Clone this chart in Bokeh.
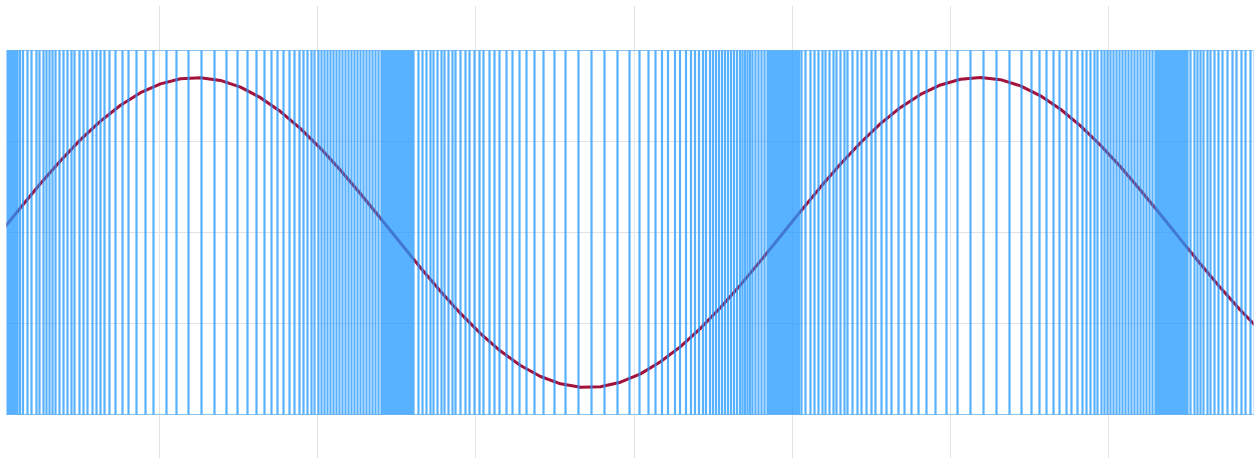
from bokeh.plotting import figure
from bokeh.models import FixedTicker, Range1d
from bokeh.embed import file_html
from bokeh.resources import INLINE

# x positions of the vertical sample marks
sample_x = [
    1, 2.5, 4, 5.5, 7, 8.5, 10, 11.5, 13, 14.5, 16, 17, 19.5, 22.5, 27, 31, 36, 39, 43, 46,
    49, 52, 55, 59, 63, 67, 71, 74, 79, 83, 87, 92, 96, 100, 104, 109, 115, 122, 128, 136,
    145, 153, 166, 176, 188, 201, 214, 226, 237, 247, 256, 264, 271, 277, 283, 289, 294, 299,
    303, 307, 311, 314, 318, 321, 324, 327, 330, 333, 336, 339, 342, 345, 348, 351,
    354, 357, 360, 363, 366, 369, 372, 375, 378, 381, 383, 384.5, 386, 387.5,
    389, 390.5, 392, 393.5, 395, 396.5, 398, 399.5, 401, 402.5, 404, 405.5, 407, 408.5,
    410, 411.5, 413, 418, 422, 426, 430, 433, 437, 441, 444, 448, 452, 455, 460, 465, 469, 474,
    479, 483, 489, 494, 499, 506, 512, 519, 526, 534, 543, 554, 565, 578, 591, 604, 617, 629,
    639, 648, 655, 661.5, 667.5, 674.5, 679.5, 685.5, 690.5, 694.5, 698.5, 702.5, 705.5, 709.5,
    712.5, 715.5, 718.5, 721.5, 724.5, 727.5, 730.5, 733.5, 736.5, 739.5, 742, 744.5,
    747, 749.5, 752, 755, 758, 761, 764, 767, 768.5, 770, 771.5, 773,
    774.5, 776, 777.5, 779, 780.5, 782, 783.5, 785, 786.5, 788, 789.5, 791, 792.5, 794, 795.5,
    797, 798.5, 801, 805, 810, 814, 818, 822, 825, 829, 833, 836, 840, 844, 847, 852, 857, 861,
    866, 871, 875, 881, 886, 891, 898, 904, 911, 918, 926, 935, 946, 957, 970, 983, 996, 1009,
    1021, 1031, 1039, 1046, 1053, 1059, 1066, 1071, 1077, 1082, 1086, 1090, 1094, 1097, 1101,
    1104, 1107, 1110, 1113, 1116, 1119, 1122, 1125, 1128, 1131, 1134, 1137, 1140,
    1143, 1146, 1149, 1152, 1155, 1157, 1158.5, 1160, 1161.5, 1163, 1164.5, 1166, 1167.5,
    1169, 1170.5, 1172, 1173.5, 1175, 1176.5, 1178, 1179.5, 1181, 1182.5, 1184, 1185.5, 1187,
    1190, 1194, 1197, 1200, 1203, 1207, 1210, 1214, 1218, 1222, 1227, 1232, 1236, 1241, 1245,
    1250, 1254,
]

# the smooth curve
curve_x = [0, 20, 40, 60, 80, 100, 120, 140, 160, 180, 200, 220, 240, 260, 280, 300, 320,
           340, 360, 380, 400, 420, 440, 460, 480, 500, 520, 540, 560, 580, 600, 620, 640,
           660, 680, 700, 720, 740, 760, 780, 800, 820, 840, 860, 880, 900, 920, 940, 960,
           980, 1000, 1020, 1040, 1060, 1080, 1100, 1120, 1140, 1160, 1180, 1200, 1220, 1240,
           1260]
curve_y = [0.000, 0.160, 0.316, 0.463, 0.599, 0.719, 0.821, 0.902, 0.959, 0.992, 0.999,
           0.981, 0.938, 0.870, 0.780, 0.670, 0.543, 0.402, 0.250, 0.092, -0.068, -0.227,
           -0.379, -0.522, -0.652, -0.765, -0.858, -0.929, -0.976, -0.998, -0.995, -0.966,
           -0.912, -0.834, -0.736, -0.618, -0.484, -0.338, -0.183, -0.024, 0.136, 0.293,
           0.442, 0.579, 0.702, 0.807, 0.891, 0.952, 0.989, 1.000, 0.986, 0.946, 0.882,
           0.795, 0.688, 0.563, 0.424, 0.273, 0.116, -0.044, -0.203, -0.357, -0.502, -0.634]

band_bottom = -1.174
band_top = 1.174
x_grid_ticks = [159, 317, 475, 634, 792, 950, 1108]
y_grid_ticks = [-1.174, -0.587, 0, 0.587, 1.174]

# one path made of separate vertical strokes (NaN breaks)
nan = float("nan")
comb_x, comb_y = [], []
for x in sample_x:
    comb_x += [x, x, nan]
    comb_y += [band_bottom, band_top, nan]

p = figure(width=1257, height=462, output_backend="svg", toolbar_location=None,
           x_range=Range1d(6, 1253), y_range=Range1d(-1.458, 1.4645),
           x_axis_location=None, y_axis_location=None,
           min_border_left=6, min_border_right=4, min_border_top=5, min_border_bottom=4)
p.outline_line_color = None
p.background_fill_color = "white"
p.border_fill_color = "white"

p.xgrid.ticker = FixedTicker(ticks=x_grid_ticks)
p.ygrid.ticker = FixedTicker(ticks=y_grid_ticks)
p.xgrid.grid_line_color = "#e3e3e3"
p.ygrid.grid_line_color = "#e3e3e3"
p.xgrid.grid_line_width = 1
p.ygrid.grid_line_width = 1

p.line(curve_x, curve_y, line_color="#a3123a", line_width=3)
p.line(comb_x, comb_y, line_color="#239aff", line_alpha=0.76, line_width=2.2)
edge_x = [sample_x[0], sample_x[-1]]
p.line(edge_x, [band_top, band_top], line_color="#239aff", line_alpha=0.45, line_width=1)
p.line(edge_x, [band_bottom, band_bottom], line_color="#239aff", line_alpha=0.45, line_width=1)

open("out.html", "w").write(file_html(p, INLINE))
